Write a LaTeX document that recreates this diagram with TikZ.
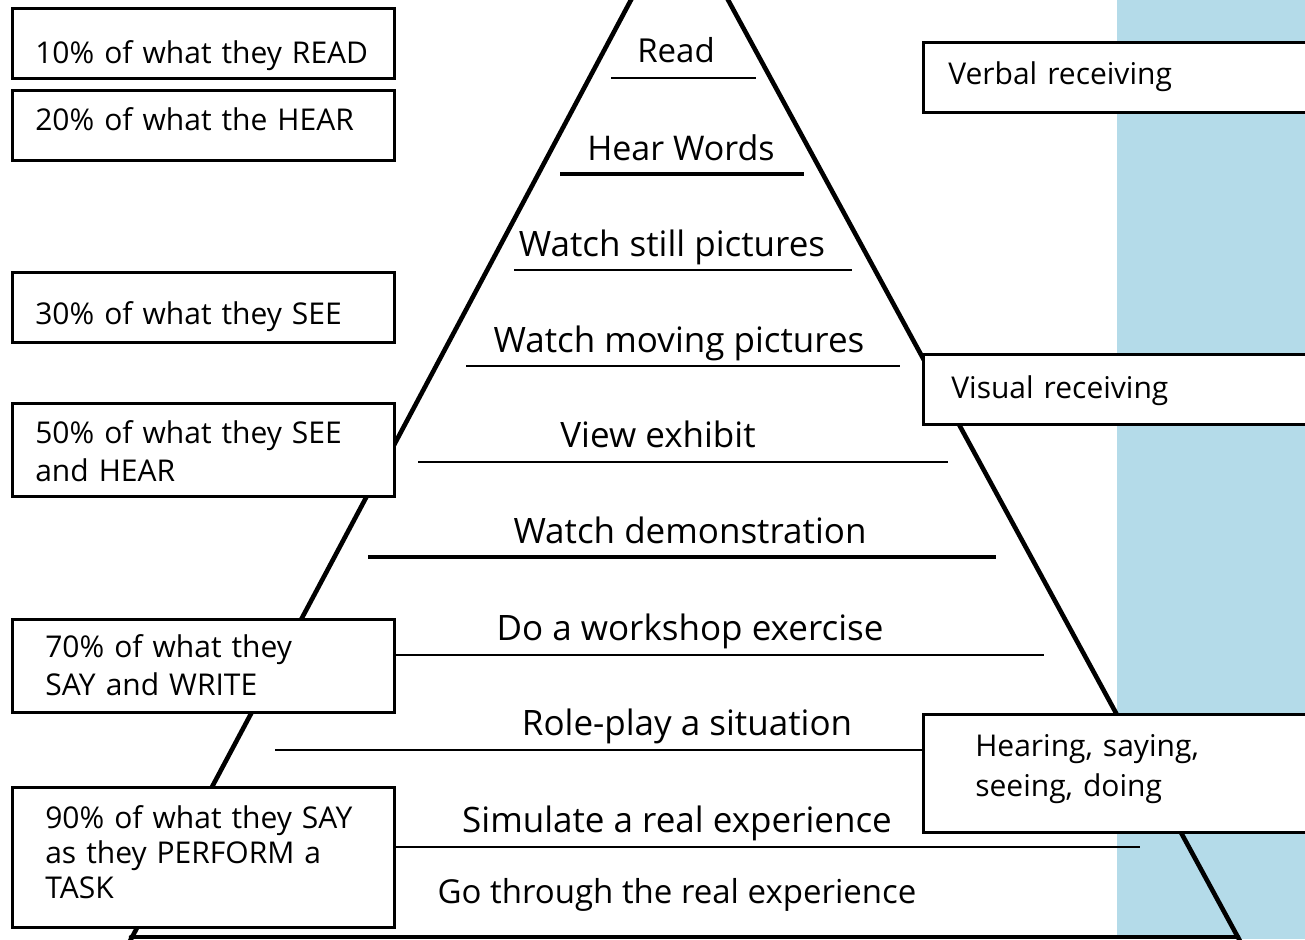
\documentclass[tikz,border=0pt]{standalone}
\usepackage{fontspec}
\setmainfont{Open Sans}
\definecolor{skyband}{RGB}{180,219,233}
\tikzset{
  pyr/.style={line width=4.6pt, line cap=round},
  rulethin/.style={line width=2.6pt},
  rulethick/.style={line width=4.8pt},
  lvl/.style={anchor=base, inner sep=0pt, font=\fontsize{35}{38}\selectfont},
  box/.style={draw, line width=2.6pt, fill=white, anchor=north west, align=left,
    inner ysep=0pt, font=\fontsize{30}{38}\selectfont},
}
\begin{document}
\begin{tikzpicture}[x=1pt,y=-1pt]
\useasboundingbox (0,0) rectangle (1305,939);
\fill[skyband] (1117,0) rectangle (1305,939);
% pyramid
\coordinate (apL) at (632,-2);
\coordinate (bsL) at (130,941);
\coordinate (apR) at (727,-2);
\coordinate (bsR) at (1240,941);
\coordinate (bl) at (131,937);
\coordinate (br) at (1238,937);
\draw[pyr] (apL) -- (bsL);
\draw[pyr] (apR) -- (bsR);
\draw[pyr] (bl) -- (br);
% level labels
\node[lvl, font=\fontsize{33}{38}\selectfont] (lRead) at (676,63) {Read};
\node[lvl, font=\fontsize{34}{38}\selectfont] (lHear) at (681,160) {Hear Words};
\node[lvl] (lStill) at (672,256) {Watch still pictures};
\node[lvl] (lMov) at (679,352) {Watch moving pictures};
\node[lvl] (lView) at (658,447) {View exhibit};
\node[lvl] (lDemo) at (690,543) {Watch demonstration};
\node[lvl] (lWork) at (690,640) {Do a workshop exercise};
\node[lvl] (lRole) at (687,735) {Role-play a situation};
\node[lvl] (lSim) at (677,832) {Simulate a real experience};
\node[lvl, font=\fontsize{33}{38}\selectfont] (lGo) at (677,903) {Go through the real experience};
% left boxes
\node[box, minimum width=382pt, minimum height=70pt, inner xsep=23pt, text width=336pt,
  text height=55pt, text depth=15pt] (b10) at (11,7) {10\% of what they READ};
\node[box, minimum width=382pt, minimum height=70pt, inner xsep=23pt, text width=336pt,
  text height=40pt, text depth=30pt] (b20) at (11,89) {20\% of what the HEAR};
\node[box, minimum width=382pt, minimum height=70pt, inner xsep=23pt, text width=336pt,
  text height=52pt, text depth=18pt] (b30) at (11,271) {30\% of what they SEE};
\node[box, minimum width=382pt, minimum height=93pt, inner xsep=23pt, text width=336pt,
  text height=40pt, text depth=53pt] (b50) at (11,402) {50\% of what they SEE\\and HEAR};
\node[box, minimum width=382pt, minimum height=93pt, inner xsep=33pt, text width=316pt,
  text height=38pt, text depth=55pt] (b70) at (11,618) {70\% of what they\\SAY and WRITE};
\node[box, minimum width=382pt, minimum height=140pt, inner xsep=33pt, text width=316pt,
  text height=41pt, text depth=99pt, font=\fontsize{30}{35}\selectfont] (b90) at (11,786) {90\% of what they SAY\\as they PERFORM a\\TASK};
% right boxes
\node[box, minimum width=383pt, minimum height=70pt, inner xsep=25pt, text width=333pt,
  text height=42pt, text depth=28pt] (bVerb) at (922,41) {Verbal receiving};
\node[box, minimum width=383pt, minimum height=70pt, inner xsep=28pt, text width=327pt,
  text height=44pt, text depth=26pt] (bVis) at (922,353) {Visual receiving};
\node[box, minimum width=383pt, minimum height=118pt, inner xsep=52pt, text width=279pt,
  text height=42pt, text depth=76pt, font=\fontsize{30}{40}\selectfont] (bHS) at (922,713) {Hearing, saying,\\seeing, doing};
% level rules
\coordinate (r1a) at (611,78);  \coordinate (r1b) at (756,78);
\coordinate (r2a) at (560,174); \coordinate (r2b) at (804,174);
\coordinate (r3a) at (514,270); \coordinate (r3b) at (852,270);
\coordinate (r4a) at (466,366); \coordinate (r4b) at (900,366);
\coordinate (r5a) at (418,462); \coordinate (r5b) at (948,462);
\coordinate (r6a) at (368,557); \coordinate (r6b) at (996,557);
\coordinate (r7b) at (1044,655);
\coordinate (r8a) at (275,750);
\coordinate (r9b) at (1140,847);
\draw[rulethin] (r1a) -- (r1b);
\draw[rulethick] (r2a) -- (r2b);
\draw[rulethin] (r3a) -- (r3b);
\draw[rulethin] (r4a) -- (r4b);
\draw[rulethin] (r5a) -- (r5b);
\draw[rulethick] (r6a) -- (r6b);
\draw[rulethin] (b70.east |- r7b) -- (r7b);
\draw[rulethin] (r8a) -- (bHS.west |- r8a);
\draw[rulethin] (b90.east |- r9b) -- (r9b);
\end{tikzpicture}
\end{document}
